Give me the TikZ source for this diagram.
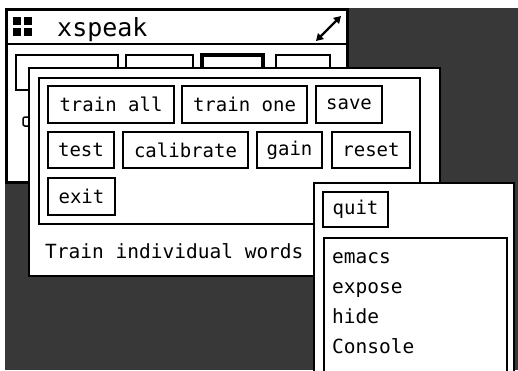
\documentclass[tikz,border=0pt]{standalone}
\usepackage{fontspec}
\setmonofont{DejaVu Sans Mono}
\usetikzlibrary{arrows.meta}
\begin{document}
\begin{tikzpicture}[x=1pt,y=-1pt,
  win/.style={draw=black, fill=white, line width=2pt, anchor=north west, inner sep=0pt},
  btn/.style={draw=black, fill=white, line width=2pt, inner sep=0pt,
    font=\ttfamily\fontsize{19}{19}\selectfont},
  lbl/.style={inner sep=0pt, anchor=base west, font=\ttfamily\fontsize{19.5}{19.5}\selectfont},
  sq/.style={fill=black, inner sep=0pt, minimum size=8pt}]
\useasboundingbox (0,0) rectangle (518,370);
\clip (0,0) rectangle (518,370);
\fill[white] (0,0) rectangle (518,370);
% desktop
\node[fill=black!78, anchor=north west, minimum width=513pt, minimum height=362pt, inner sep=0pt] (desk) at (5,8) {};
% back window
\node[win, line width=3pt, minimum width=341pt, minimum height=173pt] (backwin) at (5,8) {};
\coordinate (tl) at (5,44);
\coordinate (tr) at (346,44);
\draw[line width=2pt] (tl) -- (tr);
\node[sq] (s1) at (17,21) {};
\node[sq] (s2) at (28,21) {};
\node[sq] (s3) at (17,32) {};
\node[sq] (s4) at (28,32) {};
\node[anchor=base west, inner sep=0pt, font=\ttfamily\fontsize{25}{25}\selectfont] (title) at (57,36) {xspeak};
\coordinate (ra) at (316,41);
\coordinate (rb) at (341,16);
\draw[line width=2.2pt, {Triangle[length=7pt,width=8pt]}-{Triangle[length=7pt,width=8pt]}] (ra) -- (rb);
% back buttons
\node[btn, minimum width=102pt, minimum height=35pt] (bb1) at (67,72.5) {};
\node[btn, minimum width=67pt, minimum height=35pt] (bb2) at (159.5,72.5) {};
\node[btn, line width=4pt, minimum width=61pt, minimum height=35pt] (bb3) at (232.5,72.5) {};
\node[btn, minimum width=54pt, minimum height=35pt] (bb4) at (303,72.5) {};
\node[btn, line width=1.5pt, rounded corners=2pt, minimum width=7pt, minimum height=9pt] (bump) at (26.5,121.5) {};
% front window
\node[win, minimum width=411pt, minimum height=208pt] (front) at (28,67) {};
\node[win, minimum width=381pt, minimum height=146pt] (panel) at (38,77) {};
\node[btn, minimum width=126pt, minimum height=37pt] (trainall) at (111,104.5) {train all};
\node[btn, minimum width=125pt, minimum height=37pt] (trainone) at (244.5,104.5) {train one};
\node[btn, minimum width=66pt, minimum height=37pt] (save) at (349,104.5) {save};
\node[btn, minimum width=66pt, minimum height=36pt] (test) at (81,150) {test};
\node[btn, minimum width=125pt, minimum height=36pt] (calibrate) at (185.5,150) {calibrate};
\node[btn, minimum width=65pt, minimum height=36pt] (gain) at (289.5,150) {gain};
\node[btn, minimum width=78pt, minimum height=36pt] (reset) at (371,150) {reset};
\node[btn, minimum width=67pt, minimum height=37pt] (exit) at (81.5,196.5) {exit};
\node[lbl] (status) at (45,258) {Train individual words};
% popup menu
\node[win, minimum width=200pt, minimum height=200pt] (popup) at (313,182) {};
\node[btn, minimum width=65pt, minimum height=35pt] (quit) at (355.5,209.5) {quit};
\node[win, minimum width=183pt, minimum height=150pt] (list) at (323,237) {};
\node[lbl] (emacs) at (332,263) {emacs};
\node[lbl] (expose) at (332,293) {expose};
\node[lbl] (hide) at (332,323) {hide};
\node[lbl] (console) at (332,353) {Console};
\end{tikzpicture}
\end{document}
